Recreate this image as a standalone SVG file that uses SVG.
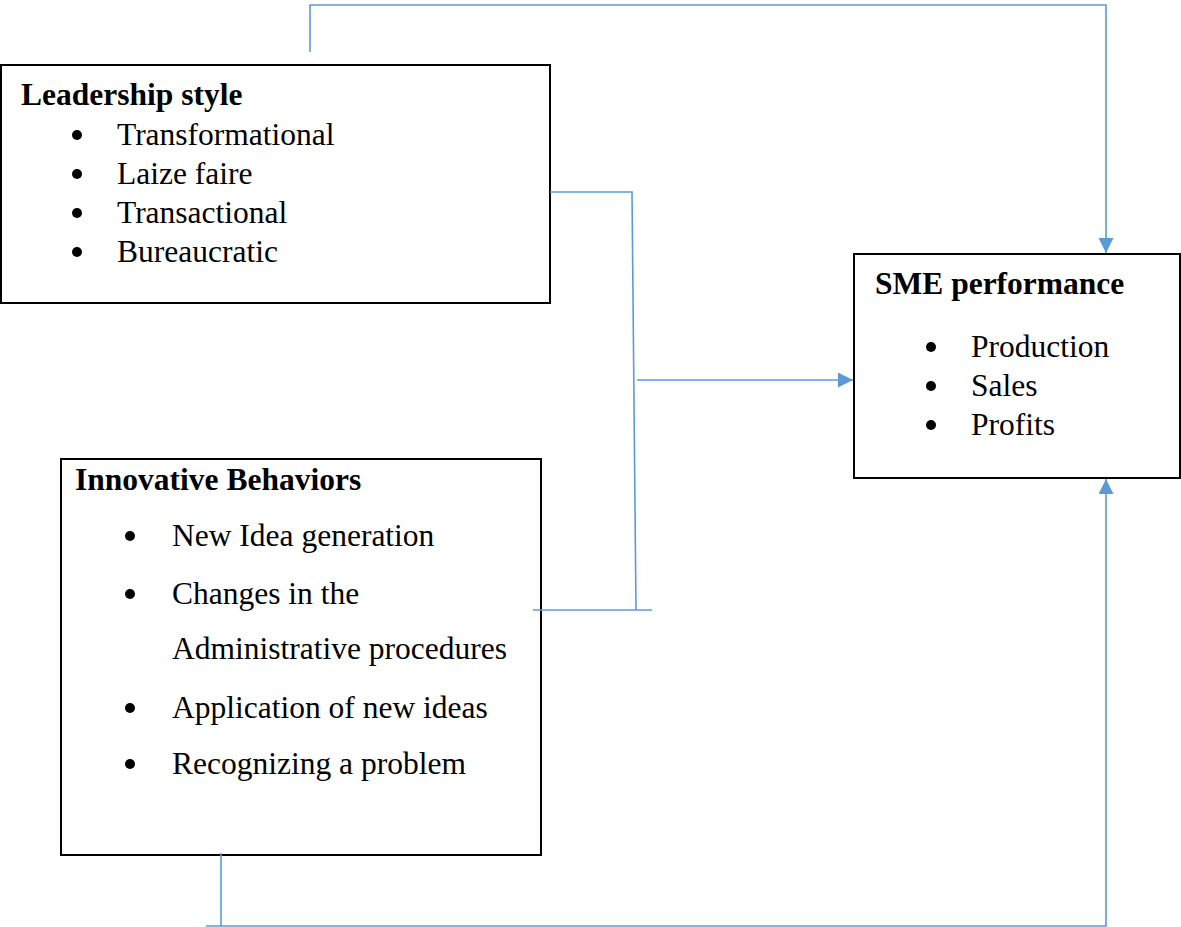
<svg xmlns="http://www.w3.org/2000/svg" width="1181" height="927" viewBox="0 0 1181 927">
<style>
.box{fill:#fff;stroke:#000;stroke-width:2}
.t{font-family:"Liberation Serif","Times New Roman",serif;font-size:31.5px;fill:#000}
.b{font-weight:bold}
.bul{fill:#000}
.c{fill:none;stroke:#5B9BD5;stroke-width:1.6}
</style>
<defs>
<marker id="ah" viewBox="0 0 10 10" refX="10" refY="5" markerWidth="15" markerHeight="15" markerUnits="userSpaceOnUse" orient="auto">
<path d="M0,0 L10,5 L0,10 Z" fill="#5B9BD5"/>
</marker>
</defs>
<rect width="1181" height="927" fill="#fff"/>
<g id="leadership">
<rect class="box" x="1" y="65" width="549" height="238"/>
<text class="t b" x="21" y="105">Leadership style</text>
<circle class="bul" cx="77" cy="135" r="5"/>
<text class="t" x="117" y="145">Transformational</text>
<circle class="bul" cx="77" cy="174" r="5"/>
<text class="t" x="117" y="184">Laize faire</text>
<circle class="bul" cx="77" cy="213" r="5"/>
<text class="t" x="117" y="223">Transactional</text>
<circle class="bul" cx="77" cy="252" r="5"/>
<text class="t" x="117" y="262">Bureaucratic</text>
</g>
<g id="sme">
<rect class="box" x="854" y="254" width="326" height="224"/>
<text class="t b" x="875" y="294">SME performance</text>
<circle class="bul" cx="931" cy="347" r="5"/>
<text class="t" x="971" y="357">Production</text>
<circle class="bul" cx="931" cy="386" r="5"/>
<text class="t" x="971" y="396">Sales</text>
<circle class="bul" cx="931" cy="425" r="5"/>
<text class="t" x="971" y="435">Profits</text>
</g>
<g id="innovative">
<rect class="box" x="61" y="459" width="480" height="396"/>
<text class="t b" x="75" y="490">Innovative Behaviors</text>
<circle class="bul" cx="130" cy="536" r="5"/>
<text class="t" x="172" y="546">New Idea generation</text>
<circle class="bul" cx="130" cy="594" r="5"/>
<text class="t" x="172" y="604">Changes in the</text>
<text class="t" x="172" y="659">Administrative procedures</text>
<circle class="bul" cx="130" cy="708" r="5"/>
<text class="t" x="172" y="718">Application of new ideas</text>
<circle class="bul" cx="130" cy="764" r="5"/>
<text class="t" x="172" y="774">Recognizing a problem</text>
</g>
<g id="connectors">
<path class="c" d="M310,52 V5 H1106 V253" marker-end="url(#ah)"/>
<path class="c" d="M550,192 H632 L636,610"/>
<path class="c" d="M533,610 H652"/>
<path class="c" d="M637,380 H853" marker-end="url(#ah)"/>
<path class="c" d="M221,853 V926 M206,926 H1106 V479" marker-end="url(#ah)"/>
</g>
</svg>
